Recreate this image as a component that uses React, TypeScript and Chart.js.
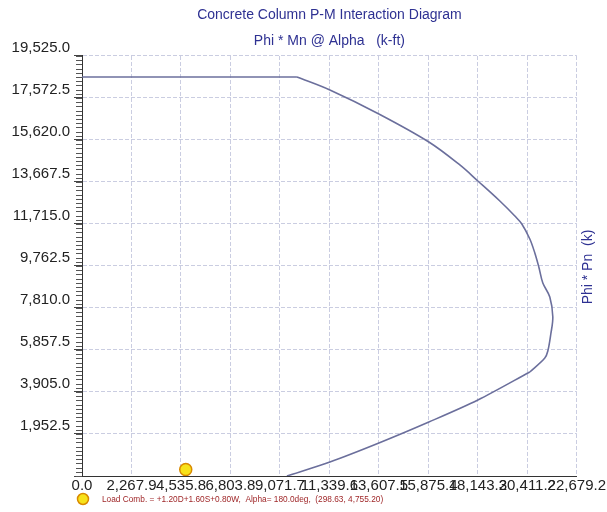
import React, { useEffect, useRef } from "react";
import { Chart, registerables } from "chart.js";

Chart.register(...registerables);

// ---- Data ----
const titleLines = ["Concrete Column P-M Interaction Diagram", "Phi * Mn @ Alpha   (k-ft)"];
const yAxisTitle = "Phi * Pn  (k)";

// Interaction curve: Phi*Mn (k-ft) vs Phi*Pn (k), in three branches
const flatMoment = [0, 9851];
const flatAxial = [18549, 18549];

const upperMoment = [9851, 11363, 13608, 15898, 17319, 18144, 19152, 19839, 20159, 20526, 20755, 20938, 21122, 21442, 21580, 21488, 21351, 21213, 20526];
const upperAxial = [18549, 17944, 16829, 15527, 14458, 13714, 12784, 12087, 11715, 11018, 10367, 9716, 8972, 8321, 7392, 6601, 5811, 5486, 4835];

const lowerMoment = [20526, 18144, 15898, 13608, 11363, 9392];
const lowerAxial = [4835, 3533, 2510, 1534, 651, 0];

// Load combination point
const loadLabel = "Load Comb. = +1.20D+1.60S+0.80W,  Alpha= 180.0deg,  (298.63, 4,755.20)";
const loadX = [4755.2];
const loadY = [298.63];

// Axis ticks
const xTickValues = [0, 2267.92, 4535.84, 6803.76, 9071.68, 11339.6, 13607.52, 15875.44, 18143.36, 20411.28, 22679.2];
const xTickLabels = ["0.0", "2,267.9", "4,535.8", "6,803.8", "9,071.7", "11,339.6", "13,607.5", "15,875.4", "18,143.3", "20,411.2", "22,679.2"];
const yTickValues = [0, 1952.5, 3905, 5857.5, 7810, 9762.5, 11715, 13667.5, 15620, 17572.5, 19525];
const yTickLabels = ["", "1,952.5", "3,905.0", "5,857.5", "7,810.0", "9,762.5", "11,715.0", "13,667.5", "15,620.0", "17,572.5", "19,525.0"];

const FONT = "'Liberation Sans', Arial, Helvetica, sans-serif";
const NAVY = "#2e3192";
const GRID = "rgba(150,155,195,0.5)";
const CURVE = "#6b6f9c";

const toPoints = (xs: number[], ys: number[]) => xs.map((x, i) => ({ x, y: ys[i] }));

export default function App() {
  const ref = useRef<HTMLCanvasElement>(null);

  useEffect(() => {
    const canvas = ref.current;
    if (!canvas) return;

    const decor = {
      id: "decor",
      afterDraw(chart: any) {
        const ctx = chart.ctx as CanvasRenderingContext2D;
        const ys = chart.scales.y;
        const area = chart.chartArea;
        // minor ticks on y axis
        ctx.save();
        ctx.strokeStyle = "#555";
        ctx.lineWidth = 1;
        const step = (yTickValues[1] - yTickValues[0]) / 10;
        for (let k = 0; k <= 100; k++) {
          const py = Math.round(ys.getPixelForValue(yTickValues[0] + k * step)) + 0.5;
          ctx.beginPath();
          ctx.moveTo(area.left - 6, py);
          ctx.lineTo(area.left, py);
          ctx.stroke();
        }
        ctx.restore();

        // right-side y axis title
        ctx.save();
        ctx.translate(588, (area.top + area.bottom) / 2 + 1);
        ctx.rotate(-Math.PI / 2);
        ctx.font = `14px ${FONT}`;
        ctx.fillStyle = NAVY;
        ctx.textAlign = "center";
        ctx.textBaseline = "middle";
        ctx.fillText(yAxisTitle, 0, 0);
        ctx.restore();

        // legend
        ctx.save();
        ctx.beginPath();
        ctx.arc(83, 499, 5.5, 0, Math.PI * 2);
        ctx.fillStyle = "#f7e21a";
        ctx.fill();
        ctx.lineWidth = 1.5;
        ctx.strokeStyle = "#d98a00";
        ctx.stroke();
        ctx.font = `8.3px ${FONT}`;
        ctx.fillStyle = "#a0282a";
        ctx.textAlign = "left";
        ctx.textBaseline = "middle";
        ctx.fillText(loadLabel, 102, 499.5);
        ctx.restore();
      },
    };

    const lineStyle = {
      showLine: true,
      borderColor: CURVE,
      borderWidth: 1.6,
      pointRadius: 0,
      fill: false,
    };

    const chart = new Chart(canvas, {
      type: "scatter",
      data: {
        datasets: [
          {
            label: loadLabel,
            data: toPoints(loadX, loadY),
            pointRadius: 6,
            pointBackgroundColor: "#f7e21a",
            pointBorderColor: "#d98a00",
            pointBorderWidth: 1.5,
            showLine: false,
          },
          { label: "Flat", data: toPoints(flatMoment, flatAxial), ...lineStyle, tension: 0 },
          { label: "Upper", data: toPoints(upperMoment, upperAxial), ...lineStyle, tension: 0.35 },
          { label: "Lower", data: toPoints(lowerMoment, lowerAxial), ...lineStyle, tension: 0.3 },
        ],
      },
      options: {
        responsive: false,
        animation: false,
        layout: { padding: { left: 0, right: 30, top: 0, bottom: 16 } },
        plugins: {
          legend: { display: false },
          tooltip: { enabled: false },
          title: {
            display: true,
            text: titleLines,
            color: NAVY,
            fullSize: false,
            font: { size: 14, family: FONT, weight: "normal", lineHeight: 1.857 },
            padding: { top: 2, bottom: 2 },
          },
        },
        scales: {
          x: {
            type: "linear",
            min: 0,
            max: xTickValues[xTickValues.length - 1],
            afterBuildTicks: (s: any) => {
              s.ticks = xTickValues.map((v) => ({ value: v }));
            },
            afterFit: (s: any) => {
              s.height = 20;
            },
            ticks: {
              autoSkip: false,
              maxRotation: 0,
              minRotation: 0,
              padding: 1,
              color: "#222",
              font: { size: 15, family: FONT },
              callback: (_v: any, i: number) => xTickLabels[i],
            },
            grid: { color: GRID, drawTicks: false, tickLength: 0 },
            border: { display: true, color: "#333", width: 1, dash: [4, 2] },
          },
          y: {
            type: "linear",
            min: 0,
            max: yTickValues[yTickValues.length - 1],
            afterBuildTicks: (s: any) => {
              s.ticks = yTickValues.map((v) => ({ value: v }));
            },
            afterFit: (s: any) => {
              s.width = 82;
            },
            ticks: {
              autoSkip: false,
              padding: 4,
              labelOffset: -8,
              color: "#222",
              font: { size: 15, family: FONT },
              callback: (_v: any, i: number) => yTickLabels[i],
            },
            grid: { color: GRID, drawTicks: true, tickLength: 8, tickColor: "#444", tickBorderDash: [] },
            border: { display: true, color: "#333", width: 1, dash: [4, 2] },
          },
        },
      },
      plugins: [decor],
    } as any);

    return () => chart.destroy();
  }, []);

  return (
    <div style={{ position: "absolute", left: 0, top: 0, width: 607, height: 512, background: "#fff" }}>
      <canvas ref={ref} width={607} height={512} style={{ display: "block", width: 607, height: 512 }} />
    </div>
  );
}
